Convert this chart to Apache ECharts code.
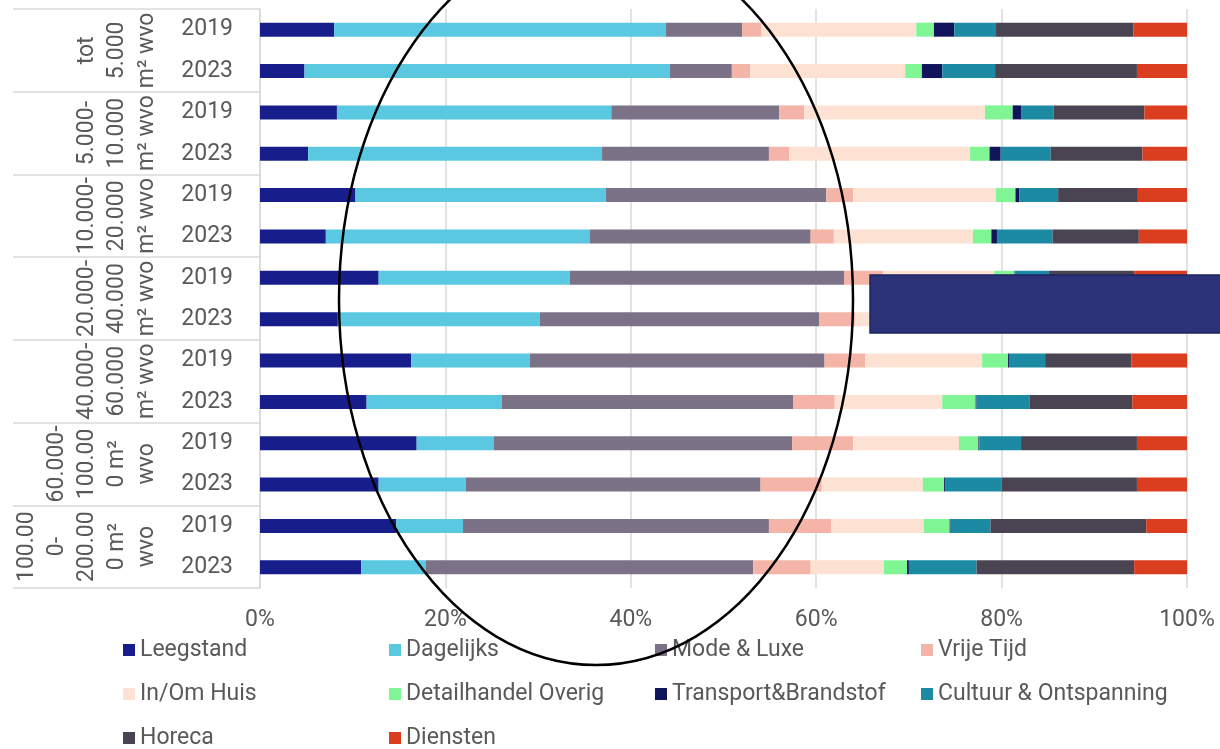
<!DOCTYPE html>
<html>
<head>
<meta charset="utf-8">
<script src="https://cdn.jsdelivr.net/npm/echarts@6/dist/echarts.min.js"></script>
<style>
  html, body { margin: 0; padding: 0; background: #fff; }
  #main { width: 1220px; height: 749px; }
</style>
</head>
<body>
<div id="main"></div>
<script>
var years = ['2019', '2023', '2019', '2023', '2019', '2023', '2019', '2023',
             '2019', '2023', '2019', '2023', '2019', '2023'];
var groups = [
  'tot\n5.000\nm² wvo',
  '5.000-\n10.000\nm² wvo',
  '10.000-\n20.000\nm² wvo',
  '20.000-\n40.000\nm² wvo',
  '40.000-\n60.000\nm² wvo',
  '60.000-\n100.00\n0 m²\nwvo',
  '100.00\n0-\n200.00\n0 m²\nwvo'
];
var percentTicks = [0, 20, 40, 60, 80, 100];

var seriesNames = ['Leegstand', 'Dagelijks', 'Mode & Luxe', 'Vrije Tijd', 'In/Om Huis',
                   'Detailhandel Overig', 'Transport&Brandstof', 'Cultuur & Ontspanning',
                   'Horeca', 'Diensten'];
var colors = ['#171E8B', '#5BC8E2', '#7B7287', '#F4B5A8', '#FDE2D4',
              '#7FF594', '#10145A', '#1D8AA4', '#4A4452', '#DA3E1E'];

var leegstand  = [8.0, 4.8, 8.3, 5.2, 10.3, 7.1, 12.8, 8.4, 16.3, 11.5, 16.9, 12.8, 14.7, 10.9];
var dagelijks  = [35.8, 39.4, 29.6, 31.7, 27.0, 28.5, 20.6, 21.8, 12.8, 14.6, 8.3, 9.4, 7.2, 7.0];
var modeLuxe   = [8.2, 6.7, 18.1, 18.0, 23.8, 23.8, 29.6, 30.1, 31.8, 31.4, 32.2, 31.8, 33.0, 35.3];
var vrijeTijd  = [2.1, 2.0, 2.7, 2.2, 2.9, 2.5, 4.2, 3.9, 4.4, 4.5, 6.6, 6.6, 6.7, 6.2];
var inOmHuis   = [16.7, 16.7, 19.5, 19.5, 15.4, 15.0, 12.0, 12.5, 12.6, 11.6, 11.4, 10.9, 10.0, 7.9];
var detailOv   = [1.9, 1.8, 3.0, 2.1, 2.1, 2.0, 2.2, 2.3, 2.8, 3.6, 2.1, 2.3, 2.8, 2.5];
var transport  = [2.2, 2.2, 0.9, 1.2, 0.4, 0.6, 0.1, 0.2, 0.1, 0.1, 0.1, 0.1, 0.1, 0.2];
var cultuur    = [4.5, 5.7, 3.5, 5.4, 4.2, 6.0, 3.6, 5.6, 3.9, 5.7, 4.5, 6.1, 4.3, 7.3];
var horeca     = [14.8, 15.3, 9.8, 9.9, 8.6, 9.3, 9.2, 9.6, 9.3, 11.1, 12.5, 14.6, 16.8, 17.0];
var diensten   = [5.8, 5.4, 4.6, 4.8, 5.3, 5.2, 5.7, 5.6, 6.0, 5.9, 5.4, 5.4, 4.4, 5.7];

var values = [leegstand, dagelijks, modeLuxe, vrijeTijd, inOmHuis,
              detailOv, transport, cultuur, horeca, diensten];

var chart = echarts.init(document.getElementById('main'));

var series = seriesNames.map(function (name, i) {
  return {
    name: name,
    type: 'bar',
    stack: 'total',
    barWidth: 14,
    itemStyle: { color: colors[i] },
    data: values[i]
  };
});

var option = {
  animation: false,
  textStyle: { fontFamily: 'Roboto' },
  grid: { left: 260, right: 33, top: 9, bottom: 161 },
  xAxis: {
    type: 'value',
    min: percentTicks[0],
    max: percentTicks[percentTicks.length - 1],
    interval: 20,
    axisLine: { show: false },
    axisTick: { show: false },
    splitLine: { lineStyle: { color: '#d9d9d9', width: 1.5 } },
    axisLabel: { formatter: '{value}%', color: '#595959', fontSize: 23, margin: 21 }
  },
  yAxis: [
    {
      type: 'category',
      inverse: true,
      data: years,
      axisLine: { show: true, lineStyle: { color: '#d9d9d9', width: 1.5 } },
      axisTick: { show: false },
      axisLabel: { color: '#595959', fontSize: 23, margin: 27, interval: 0, padding: [7, 0, 0, 0] }
    },
    {
      type: 'category',
      inverse: true,
      position: 'left',
      data: groups,
      axisLine: { show: false },
      axisTick: { show: true, interval: 0, length: 247, lineStyle: { color: '#d9d9d9', width: 1.5 } },
      axisLabel: {
        rotate: 90, interval: 0, margin: 98, color: '#595959',
        fontSize: 23, lineHeight: 30, hideOverlap: false
      }
    }
  ],
  legend: {
    left: 123,
    top: 628,
    padding: 0,
    width: 1070,
    itemGap: 0,
    itemWidth: 12,
    itemHeight: 12,
    icon: 'rect',
    textStyle: { color: '#595959', fontSize: 23, width: 249, lineHeight: 44 },
    data: seriesNames
  },
  graphic: [
    {
      type: 'rect',
      z: 100,
      shape: { x: 870, y: 275, width: 360, height: 58 },
      style: { fill: '#2B3278', stroke: '#1E2360', lineWidth: 1.5 }
    },
    {
      type: 'ellipse',
      z: 101,
      shape: { cx: 596, cy: 300, rx: 257, ry: 365 },
      style: { fill: 'none', stroke: '#000', lineWidth: 2.5 }
    }
  ],
  series: series
};

chart.setOption(option);
</script>
</body>
</html>
